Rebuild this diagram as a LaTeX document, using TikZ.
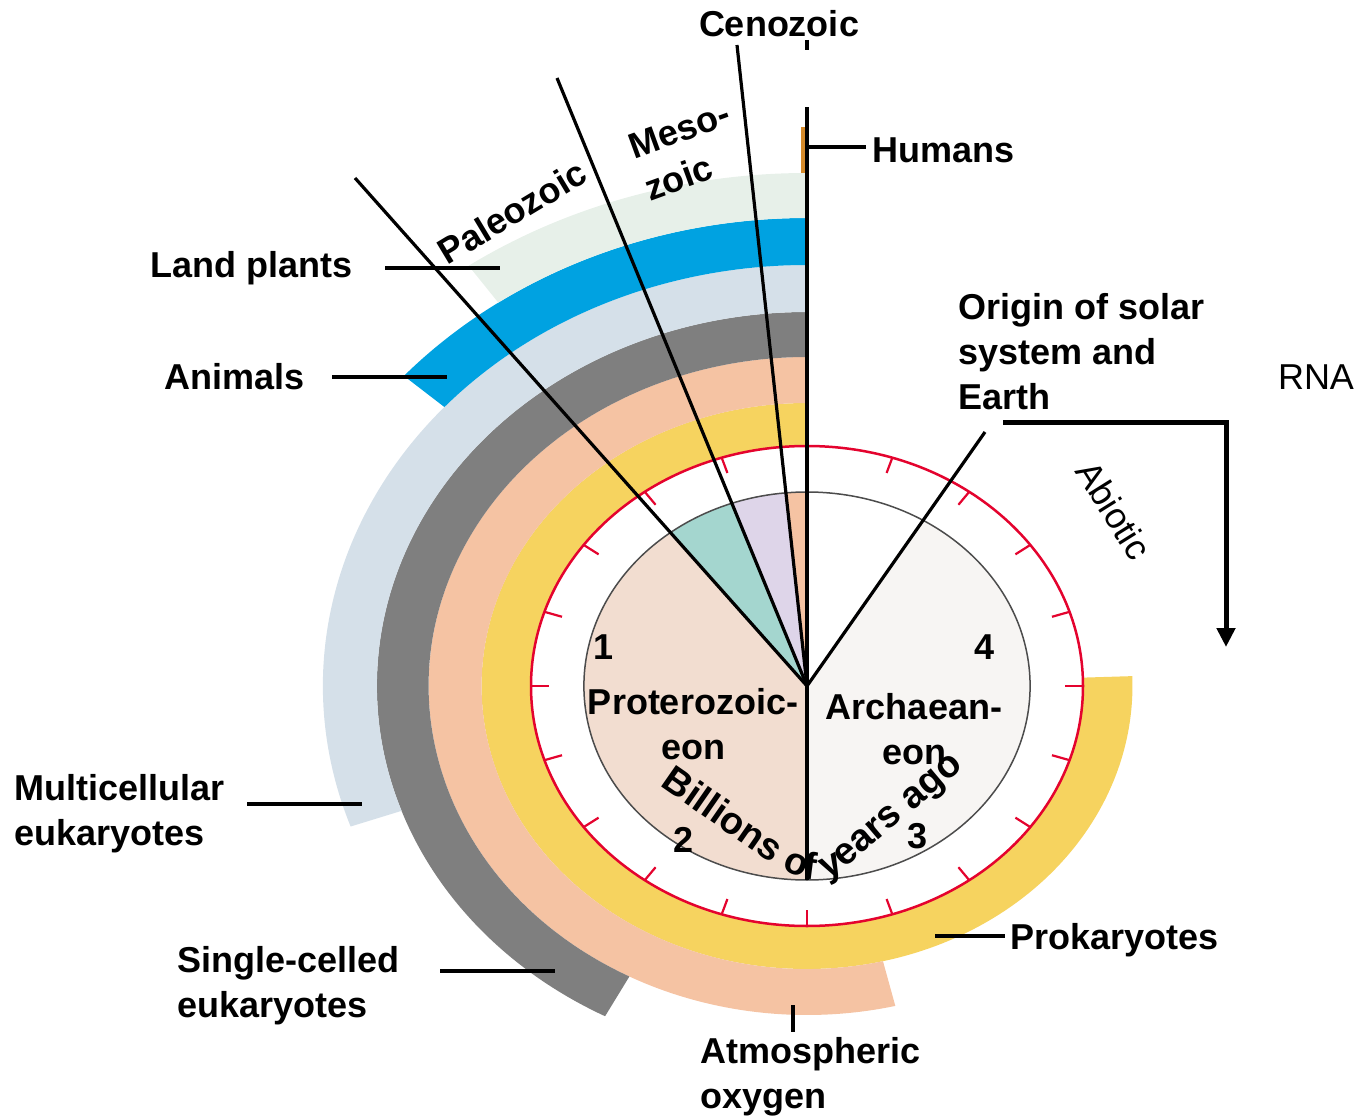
\documentclass[tikz,border=0pt]{standalone}
\usepackage{fontspec}
\setmainfont{Liberation Sans}
\usepackage{xcolor}
\usepackage{tikz}
\usetikzlibrary{arrows.meta, decorations.text}

\definecolor{prokcol}{HTML}{F6D35F}
\definecolor{oxycol}{HTML}{F5C3A3}
\definecolor{singlecol}{HTML}{7F7F7F}
\definecolor{multicol}{HTML}{D5E0E9}
\definecolor{animcol}{HTML}{00A2E1}
\definecolor{plantcol}{HTML}{E7F0E9}
\definecolor{protcol}{HTML}{F2DDD0}
\definecolor{archcol}{HTML}{F7F5F3}
\definecolor{paleocol}{HTML}{A4D6CF}
\definecolor{mesocol}{HTML}{DED5E9}
\definecolor{dialred}{HTML}{E4032E}
\definecolor{humcol}{HTML}{D58A2A}

\begin{document}
\begin{tikzpicture}[
      x=1pt, y=1pt,
      lbl/.style={font=\bfseries\fontsize{36}{45}\selectfont, inner sep=0pt},
      thinlbl/.style={font=\fontsize{36}{45}\selectfont, inner sep=0pt},
      pointer/.style={line width=4.5pt},
      eraline/.style={line width=3.2pt},
      dialtick/.style={draw=dialred, line width=2.2pt}
    ]
      \useasboundingbox (0,0) rectangle (1361,-1118);

      % clock face, drawn squashed like the original
      \begin{scope}[shift={(807,-686)}, xscale=1.15]
        \foreach \col/\ri/\ro/\e in {prokcol/240/283/362, oxycol/283/329/283.5,
            singlecol/329/374/242, multicol/374/421/199.5,
            animcol/421/468/138.5, plantcol/468/513/125}
          \fill[\col] (90:\ro) arc[start angle=90, end angle=\e, radius=\ro]
            -- (\e:\ri) arc[start angle=\e, end angle=90, radius=\ri] -- cycle;
        \fill[white] (0,0) circle (240);
        \fill[protcol] (0,0) -- (90:194) arc[start angle=90, end angle=270, radius=194] -- cycle;
        \fill[archcol] (0,0) -- (-90:194) arc[start angle=-90, end angle=58.64, radius=194] -- cycle;
        \fill[paleocol] (0,0) -- (109.67:194) arc[start angle=109.67, end angle=127.73, radius=194] -- cycle;
        \fill[mesocol] (0,0) -- (95.42:194) arc[start angle=95.42, end angle=109.67, radius=194] -- cycle;
        \fill[oxycol] (0,0) -- (90:194) arc[start angle=90, end angle=95.42, radius=194] -- cycle;
        \draw[black!70, line width=1.5pt] (0,0) circle (194);
        \draw[dialred, line width=2.5pt] (0,0) circle (240);
        \foreach \a in {0,18,...,342}
          \draw[dialtick] (\a:240) -- (\a:224);
      \end{scope}

      \coordinate (ctr) at (807,-686);
      \coordinate (paleo-end) at (355,-178);
      \coordinate (meso-end) at (557,-78);
      \coordinate (ceno-end) at (737,-45);
      \coordinate (now-end) at (807,-107);
      \coordinate (now-foot) at (807,-880);
      \coordinate (earth-end) at (985,-432);
      \coordinate (ceno-a) at (807,-40);
      \coordinate (ceno-b) at (807,-50);

      \fill[humcol] (801,-127) rectangle (806,-173);

      \draw[eraline] (ctr) -- (paleo-end);
      \draw[eraline] (ctr) -- (meso-end);
      \draw[eraline] (ctr) -- (ceno-end);
      \draw[eraline] (ctr) -- (earth-end);
      \draw[line width=3.5pt] (now-foot) -- (now-end);
      \draw[eraline] (ceno-a) -- (ceno-b);

      % labels
      \node[lbl] (ceno) at (779,-24) {Cenozoic};
      \node[lbl, rotate=20, align=left] (meso) at (687,-151) {Meso-\\zoic};
      \node[lbl, rotate=31] (paleo) at (512,-212) {Paleozoic};
      \node[lbl, anchor=west] (humans) at (872,-150) {Humans};
      \node[lbl, anchor=east] (plants) at (353,-268) {Land plants};
      \node[lbl, anchor=east] (animals) at (305,-377) {Animals};
      \node[lbl, anchor=west, align=left] (origin) at (958,-352) {Origin of solar\\system and\\Earth};
      \node[thinlbl] (rna) at (1316,-377) {RNA};
      \node[thinlbl, rotate=-58] (abiotic) at (1114,-510) {Abiotic};
      \node[lbl, anchor=west, align=left] (multi) at (14,-814) {Multicellular\\eukaryotes};
      \node[lbl, anchor=west, align=left] (single) at (177,-986) {Single-celled\\eukaryotes};
      \node[lbl, anchor=west] (prok) at (1010,-940) {Prokaryotes};
      \node[lbl, anchor=west, align=left] (oxy) at (700,-1077) {Atmospheric\\oxygen};

      \node[lbl] (one) at (604,-647) {1};
      \node[lbl] (two) at (684,-840) {2};
      \node[lbl] (three) at (918,-836) {3};
      \node[lbl] (four) at (985,-647) {4};
      \node[lbl, align=center] (prot) at (693,-724) {Proterozoic-\\eon};
      \node[lbl, align=center] (arch) at (914,-729) {Archaean-\\eon};

      \coordinate (bya-a) at (640,-772);
      \coordinate (bya-b) at (758,-854);
      \coordinate (bya-c) at (840,-872);
      \coordinate (bya-d) at (982,-752);
      \path[decorate, decoration={text along path, text align=center,
          text={|\bfseries\fontsize{38}{42}\selectfont|Billions of years ago}}]
        (bya-a) -- (bya-b) .. controls (788,-876) and (815,-888) .. (bya-c) -- (bya-d);

      % pointers
      \coordinate (hum-a) at (807,-147);
      \coordinate (hum-b) at (866,-147);
      \coordinate (plants-a) at (385,-268);
      \coordinate (plants-b) at (500,-268);
      \coordinate (anim-a) at (332,-377);
      \coordinate (anim-b) at (447,-377);
      \coordinate (multi-a) at (247,-804);
      \coordinate (multi-b) at (362,-804);
      \coordinate (single-a) at (440,-971);
      \coordinate (single-b) at (555,-971);
      \coordinate (prok-a) at (935,-936);
      \coordinate (prok-b) at (1005,-936);
      \coordinate (oxy-a) at (793,-1005);
      \coordinate (oxy-b) at (793,-1032);
      \draw[pointer] (hum-a) -- (hum-b);
      \draw[pointer] (plants-a) -- (plants-b);
      \draw[pointer] (anim-a) -- (anim-b);
      \draw[pointer] (multi-a) -- (multi-b);
      \draw[pointer] (single-a) -- (single-b);
      \draw[pointer] (prok-a) -- (prok-b);
      \draw[pointer] (oxy-a) -- (oxy-b);

      \coordinate (abio-a) at (1003,-422);
      \coordinate (abio-b) at (1226,-422);
      \coordinate (abio-c) at (1226,-647);
      \draw[line width=5pt, -{Triangle[width=18pt, length=19pt]}] (abio-a) -- (abio-b) -- (abio-c);
\end{tikzpicture}
\end{document}
